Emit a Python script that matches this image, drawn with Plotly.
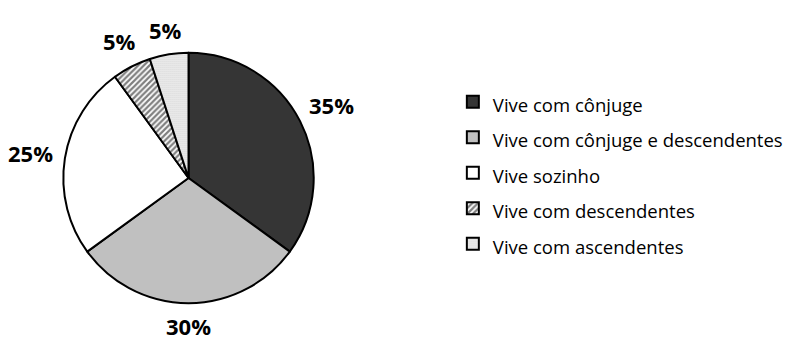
import math
import plotly.graph_objects as go

labels = ["Vive com cônjuge", "Vive com cônjuge e descendentes", "Vive sozinho",
          "Vive com descendentes", "Vive com ascendentes"]
values = [35, 30, 25, 5, 5]
colors = ["#353535", "#c0c0c0", "#ffffff", "#ffffff", "#ffffff"]
shapes = ["", "", "", "/", "."]
pattern_fg = ["#000000", "#000000", "#000000", "#000000", "#9a9a9a"]
pattern_size = [6, 6, 6, 4, 2]
pattern_solidity = [0.3, 0.3, 0.3, 0.55, 0.6]

W, H = 788, 340
cx, cy, r = 189, 178, 125.5
label_font = 22
label_gap = 11
label_half_h = 11

legend_labels = ['<span style="font-size:18.5px">%s</span>' % l for l in labels]

fig = go.Figure(go.Pie(
    labels=legend_labels,
    values=values,
    sort=False,
    direction="clockwise",
    rotation=0,
    textinfo="none",
    marker=dict(
        colors=colors,
        line=dict(color="#000000", width=2),
        pattern=dict(shape=shapes, fgcolor=pattern_fg, bgcolor=colors,
                     size=pattern_size, solidity=pattern_solidity, fillmode="overlay"),
    ),
    domain=dict(x=[(cx - r) / W, (cx + r) / W], y=[1 - (cy + r) / H, 1 - (cy - r) / H]),
    hoverinfo="label+percent",
))

# percentage labels placed at each slice's mid-angle, just outside the circle
total = sum(values)
cum = 0
for v in values:
    txt = "%d%%" % round(v / total * 100)
    half_w = 0.3 * label_font * (len(txt) - 1) + 0.4 * label_font
    mid = (cum + v / 2) / total * 2 * math.pi
    cum += v
    s, c = math.sin(mid), math.cos(mid)
    d = r + label_gap + half_w * abs(s) + label_half_h * abs(c)
    fig.add_annotation(
        x=(cx + s * d) / W, y=1 - (cy - c * d) / H, xref="paper", yref="paper",
        text=txt, showarrow=False,
        xanchor="center", yanchor="middle",
        font=dict(family="Open Sans", size=label_font, color="#000000", weight="bold"),
    )

fig.update_layout(
    width=W, height=H,
    margin=dict(l=0, r=0, t=0, b=0),
    paper_bgcolor="#ffffff",
    plot_bgcolor="#ffffff",
    font=dict(family="Open Sans", color="#000000"),
    showlegend=True,
    legend=dict(
        x=454 / W, xanchor="left",
        y=1 - 173 / H, yanchor="middle",
        font=dict(family="Open Sans", size=25, color="#000000"),
        bgcolor="rgba(0,0,0,0)",
    ),
)

fig.write_html(
    "out.html",
    config={"displayModeBar": False},
    post_script="document.body.style.margin='0';document.body.style.overflow='hidden';",
)
